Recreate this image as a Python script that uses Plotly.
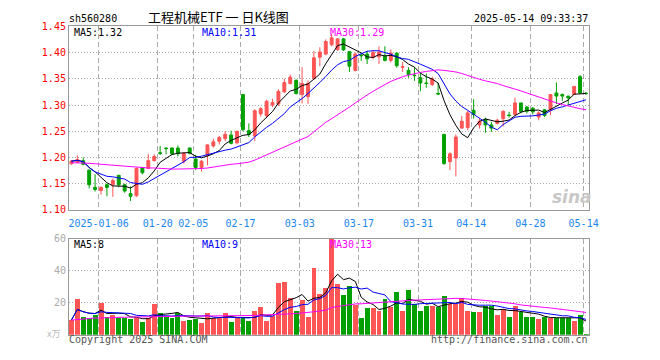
import plotly.graph_objects as go
import pandas as pd

# ---------------- data ----------------
dates = [
    "2024-12-27", "2024-12-30", "2024-12-31", "2025-01-02", "2025-01-03",
    "2025-01-06", "2025-01-07", "2025-01-08", "2025-01-09", "2025-01-10",
    "2025-01-13", "2025-01-14", "2025-01-15", "2025-01-16", "2025-01-17",
    "2025-01-20", "2025-01-21", "2025-01-22", "2025-01-23", "2025-01-24",
    "2025-01-27", "2025-02-05", "2025-02-06", "2025-02-07", "2025-02-10",
    "2025-02-11", "2025-02-12", "2025-02-13", "2025-02-14", "2025-02-17",
    "2025-02-18", "2025-02-19", "2025-02-20", "2025-02-21", "2025-02-24",
    "2025-02-25", "2025-02-26", "2025-02-27", "2025-02-28", "2025-03-03",
    "2025-03-04", "2025-03-05", "2025-03-06", "2025-03-07", "2025-03-10",
    "2025-03-11", "2025-03-12", "2025-03-13", "2025-03-14", "2025-03-17",
    "2025-03-18", "2025-03-19", "2025-03-20", "2025-03-21", "2025-03-24",
    "2025-03-25", "2025-03-26", "2025-03-27", "2025-03-28", "2025-03-31",
    "2025-04-01", "2025-04-02", "2025-04-03", "2025-04-07", "2025-04-08",
    "2025-04-09", "2025-04-10", "2025-04-11", "2025-04-14", "2025-04-15",
    "2025-04-16", "2025-04-17", "2025-04-18", "2025-04-21", "2025-04-22",
    "2025-04-23", "2025-04-24", "2025-04-25", "2025-04-28", "2025-04-29",
    "2025-04-30", "2025-05-06", "2025-05-07", "2025-05-08", "2025-05-09",
    "2025-05-12", "2025-05-13", "2025-05-14",
]

opens = [
    1.188, 1.191, 1.194, 1.176, 1.143, 1.137, 1.148, 1.148, 1.166, 1.148,
    1.131, 1.127, 1.181, 1.179, 1.194, 1.209, 1.218, 1.218, 1.218, 1.193,
    1.218, 1.197, 1.181, 1.2035, 1.222, 1.231, 1.236, 1.243, 1.228, 1.320,
    1.251, 1.241, 1.283, 1.280, 1.300, 1.302, 1.325, 1.341, 1.347, 1.320,
    1.316, 1.351, 1.391, 1.397, 1.415, 1.406, 1.426, 1.402, 1.366, 1.395,
    1.397, 1.391, 1.392, 1.393, 1.385, 1.399, 1.372, 1.366, 1.357, 1.352,
    1.342, 1.339, 1.322, 1.244, 1.192, 1.199, 1.256, 1.257, 1.290, 1.262,
    1.273, 1.262, 1.265, 1.274, 1.281, 1.282, 1.304, 1.296, 1.294, 1.277,
    1.291, 1.291, 1.323, 1.320, 1.317, 1.320, 1.354, 1.3225,
]
highs = [
    1.195, 1.204, 1.200, 1.177, 1.168, 1.145, 1.150, 1.160, 1.167, 1.150,
    1.145, 1.181, 1.182, 1.207, 1.206, 1.222, 1.219, 1.219, 1.223, 1.210,
    1.219, 1.205, 1.195, 1.225, 1.236, 1.241, 1.250, 1.251, 1.251, 1.321,
    1.265, 1.292, 1.296, 1.310, 1.312, 1.330, 1.350, 1.358, 1.349, 1.372,
    1.347, 1.403, 1.410, 1.425, 1.436, 1.428, 1.428, 1.402, 1.400, 1.400,
    1.403, 1.405, 1.412, 1.412, 1.406, 1.400, 1.382, 1.372, 1.371, 1.363,
    1.360, 1.354, 1.342, 1.245, 1.210, 1.244, 1.279, 1.289, 1.311, 1.275,
    1.276, 1.268, 1.274, 1.290, 1.287, 1.314, 1.304, 1.298, 1.296, 1.288,
    1.292, 1.320, 1.343, 1.322, 1.317, 1.336, 1.357, 1.325,
]
lows = [
    1.186, 1.190, 1.185, 1.141, 1.135, 1.129, 1.126, 1.125, 1.143, 1.133,
    1.117, 1.125, 1.168, 1.178, 1.192, 1.205, 1.206, 1.205, 1.202, 1.188,
    1.206, 1.176, 1.173, 1.185, 1.219, 1.225, 1.231, 1.225, 1.225, 1.250,
    1.239, 1.231, 1.278, 1.275, 1.296, 1.298, 1.323, 1.339, 1.320, 1.303,
    1.302, 1.348, 1.374, 1.395, 1.412, 1.403, 1.403, 1.363, 1.364, 1.384,
    1.378, 1.387, 1.378, 1.383, 1.381, 1.371, 1.363, 1.352, 1.346, 1.326,
    1.333, 1.336, 1.319, 1.186, 1.176, 1.164, 1.255, 1.252, 1.274, 1.255,
    1.247, 1.249, 1.263, 1.259, 1.276, 1.279, 1.284, 1.284, 1.282, 1.271,
    1.277, 1.281, 1.302, 1.308, 1.300, 1.319, 1.321, 1.319,
]
closes = [
    1.193, 1.196, 1.187, 1.148, 1.139, 1.143, 1.143, 1.156, 1.148, 1.136,
    1.126, 1.179, 1.171, 1.194, 1.202, 1.208, 1.217, 1.207, 1.207, 1.208,
    1.208, 1.181, 1.193, 1.224, 1.230, 1.238, 1.244, 1.227, 1.250, 1.253,
    1.244, 1.289, 1.293, 1.307, 1.305, 1.326, 1.343, 1.353, 1.322, 1.341,
    1.341, 1.390, 1.401, 1.421, 1.428, 1.426, 1.405, 1.374, 1.397, 1.394,
    1.388, 1.400, 1.401, 1.385, 1.399, 1.375, 1.373, 1.358, 1.356, 1.342,
    1.341, 1.350, 1.321, 1.1885, 1.207, 1.239, 1.269, 1.285, 1.282, 1.269,
    1.262, 1.256, 1.271, 1.288, 1.280, 1.304, 1.288, 1.288, 1.287, 1.285,
    1.280, 1.320, 1.317, 1.317, 1.3135, 1.3355, 1.323, 1.322,
]
volumes = [
    9.1, 22.4, 11.5, 10.7, 12.3, 20.0, 11.5, 12.7, 10.7, 10.7,
    9.9, 10.7, 7.9, 10.7, 19.6, 13.9, 11.5, 10.7, 13.9, 8.7,
    9.5, 10.3, 7.5, 13.5, 10.7, 10.7, 13.5, 8.3, 10.7, 10.7,
    8.7, 15.2, 17.2, 8.7, 11.9, 32.3, 32.9, 23.2, 15.2, 22.0,
    11.5, 42.0, 25.7, 29.3, 60.0, 31.9, 25.0, 30.5, 18.9, 10.6,
    17.1, 17.1, 14.8, 22.7, 17.7, 26.8, 15.2, 28.0, 19.1, 15.2,
    17.9, 17.9, 17.5, 24.4, 19.1, 19.5, 23.3, 15.2, 14.6, 14.6,
    18.3, 17.9, 12.2, 16.2, 11.0, 17.9, 14.6, 11.0, 11.0, 9.7,
    11.2, 10.6, 10.6, 10.6, 10.6, 8.5, 12.2, 0.6,
]
ma30_price = [
    1.190, 1.190, 1.190, 1.189, 1.188, 1.187, 1.187, 1.186, 1.185, 1.184,
    1.183, 1.182, 1.181, 1.180, 1.180, 1.179, 1.178, 1.178, 1.178, 1.178,
    1.178, 1.178, 1.179, 1.180, 1.182, 1.183, 1.185, 1.187, 1.188, 1.189,
    1.191, 1.195, 1.200, 1.205, 1.210, 1.215, 1.220, 1.225, 1.230, 1.235,
    1.240, 1.249, 1.258, 1.267, 1.274, 1.281, 1.289, 1.296, 1.304, 1.312,
    1.319, 1.326, 1.333, 1.339, 1.345, 1.350, 1.354, 1.357, 1.360, 1.362,
    1.364, 1.366, 1.367, 1.366, 1.365, 1.363, 1.360, 1.356, 1.352, 1.349,
    1.346, 1.344, 1.341, 1.337, 1.334, 1.330, 1.327, 1.323, 1.319, 1.315,
    1.311, 1.307, 1.304, 1.301, 1.298, 1.295, 1.293, 1.291,
]
ma30_volume = [
    9.1, 9.5, 9.8, 10.1, 10.4, 10.5, 10.7, 10.8, 10.9, 10.9,
    11.0, 11.1, 11.2, 11.3, 11.4, 11.5, 11.5, 11.5, 11.6, 11.6,
    11.6, 11.6, 11.6, 11.7, 11.7, 11.7, 11.8, 11.8, 11.8, 11.9,
    11.9, 12.0, 12.2, 12.3, 12.4, 12.7, 12.9, 13.1, 13.2, 13.6,
    13.8, 14.3, 14.8, 15.3, 17.0, 17.6, 18.2, 18.8, 19.2, 19.3,
    19.5, 19.7, 19.9, 20.2, 20.6, 20.9, 21.1, 21.4, 21.6, 21.8,
    22.0, 22.2, 22.3, 22.4, 22.6, 22.7, 22.6, 22.4, 22.1, 21.8,
    21.4, 21.0, 20.6, 20.3, 19.8, 19.3, 18.6, 18.1, 17.7, 17.3,
    17.0, 16.7, 16.3, 15.9, 15.5, 15.0, 14.5, 13.9,
]

tick_dates = ["2025-01-06", "2025-01-20", "2025-02-05", "2025-02-17", "2025-03-03",
              "2025-03-17", "2025-03-31", "2025-04-14", "2025-04-28", "2025-05-14"]
tick_labels = ["2025-01-06", "01-20", "02-05", "02-17", "03-03",
               "03-17", "03-31", "04-14", "04-28", "05-14"]
price_ticks = [1.10, 1.15, 1.20, 1.25, 1.30, 1.35, 1.40, 1.45]
vol_ticks = [20, 40, 60]

title_text = "工程机械ETF 一 日K线图"
code_text = "sh560280"
time_text = "2025-05-14 09:33:37"

# ---------------- derived ----------------
x = list(range(len(dates)))
ma5 = pd.Series(closes).rolling(5, min_periods=1).mean()
ma10 = pd.Series(closes).rolling(10, min_periods=1).mean()
vma5 = pd.Series(volumes).rolling(5, min_periods=1).mean()
vma10 = pd.Series(volumes).rolling(10, min_periods=1).mean()

RED = "#FF5555"
GREEN = "#00A000"
vol_colors = [RED if c > o else GREEN for o, c in zip(opens, closes)]
tickvals_x = [dates.index(d) - 0.4 for d in tick_dates]

MONO = "DejaVu Sans Mono"
W, H = 660, 360
L, R = 70, 597.7
PT, PB = 21, 211
VT, VB = 240.7, 340


def px_x(p):
    return p / W


def px_y(p):
    return 1 - p / H


fig = go.Figure()

fig.add_trace(go.Candlestick(
    x=x, open=opens, high=highs, low=lows, close=closes,
    increasing=dict(line=dict(color=RED, width=1), fillcolor=RED),
    decreasing=dict(line=dict(color=GREEN, width=1), fillcolor=GREEN),
    xaxis="x", yaxis="y", hoverinfo="skip", showlegend=False,
))
for ser, col in [(ma5, "#000000"), (ma10, "#0000FF"), (ma30_price, "#FF00FF")]:
    fig.add_trace(go.Scatter(x=x, y=list(ser), mode="lines",
                             line=dict(color=col, width=1),
                             xaxis="x", yaxis="y", showlegend=False, hoverinfo="skip"))

fig.add_trace(go.Bar(x=x, y=volumes, marker=dict(color=vol_colors, line=dict(width=0)),
                     width=0.83, xaxis="x2", yaxis="y2", showlegend=False, hoverinfo="skip"))
for ser, col in [(vma5, "#000000"), (vma10, "#0000FF"), (ma30_volume, "#FF00FF")]:
    fig.add_trace(go.Scatter(x=x, y=list(ser), mode="lines",
                             line=dict(color=col, width=1),
                             xaxis="x2", yaxis="y2", showlegend=False, hoverinfo="skip"))

xr = [-0.42, 87.45]
common_x = dict(range=xr, tickvals=tickvals_x, showgrid=True, gridcolor="#AAAAAA",
                griddash="5px,3px", gridwidth=1, zeroline=False, showline=True,
                linecolor="#999999", linewidth=1, mirror=True, ticks="",
                domain=[px_x(L), px_x(R)], fixedrange=True)

fig.update_layout(
    width=W, height=H, margin=dict(l=0, r=0, t=0, b=0),
    paper_bgcolor="white", plot_bgcolor="white",
    showlegend=False, bargap=0,
    xaxis=dict(**common_x, anchor="y", ticktext=tick_labels, ticklabelstandoff=4,
               tickfont=dict(family=MONO, size=10, color="#1C86EE"),
               rangeslider=dict(visible=False)),
    yaxis=dict(domain=[px_y(PB), px_y(PT)], range=[1.10, 1.45], tickvals=price_ticks,
               ticktext=["%.2f" % v for v in price_ticks],
               tickfont=dict(family=MONO, size=10, color="#FF0000"),
               showgrid=True, gridcolor="#AAAAAA", griddash="1px,2px", zeroline=False,
               showline=True, linecolor="#999999", linewidth=1, mirror=True, ticks="",
               anchor="x", fixedrange=True),
    xaxis2=dict(**common_x, anchor="y2", showticklabels=False),
    yaxis2=dict(domain=[px_y(VB), px_y(VT)], range=[0, 60], tickvals=vol_ticks,
                ticktext=[str(v) for v in vol_ticks],
                tickfont=dict(family=MONO, size=10, color="#AAAAAA"),
                showgrid=True, gridcolor="#AAAAAA", griddash="1px,2px", zeroline=False,
                showline=True, linecolor="#999999", linewidth=1, mirror=True, ticks="",
                anchor="x2", fixedrange=True),
)


def ann(text, xp, yp, xanchor="left", size=10, color="#000000", family=MONO):
    fig.add_annotation(text=text, x=px_x(xp), y=px_y(yp), xref="paper", yref="paper",
                       xanchor=xanchor, yanchor="middle", showarrow=False, borderpad=0,
                       font=dict(family=family, size=size, color=color))


ann(code_text, 69, 13)
ann(title_text, 222, 11, xanchor="center", size=13, family="Noto Sans CJK SC")
ann(time_text, 598, 13, xanchor="right")

ann("MA5:%.2f" % ma5.iloc[-1], 74, 27)
ann("MA10:%.2f" % ma10.iloc[-1], 204, 27, color="#0000FF")
ann("MA30:%.2f" % ma30_price[-1], 334, 27, color="#FF00FF")

ann("MA5:%d" % int(vma5.iloc[-1]), 74, 246.5)
ann("MA10:%d" % int(vma10.iloc[-1]), 204, 246.5, color="#0000FF")
ann("MA30:%d" % int(ma30_volume[-1]), 334, 246.5, color="#FF00FF")

ann("x万", 47, 339, size=9, color="#BBBBBB", family="Noto Sans CJK SC")
ann("Copyright 2025 SINA.COM", 69, 345.5, color="#555555")
ann("http://finance.sina.com.cn", 598, 345.5, xanchor="right", color="#555555")
ann("<b><i>sina</i></b>", 581, 198, xanchor="center", size=17, color="#C8C8C8",
    family="DejaVu Sans")

fig.write_html("out.html")
